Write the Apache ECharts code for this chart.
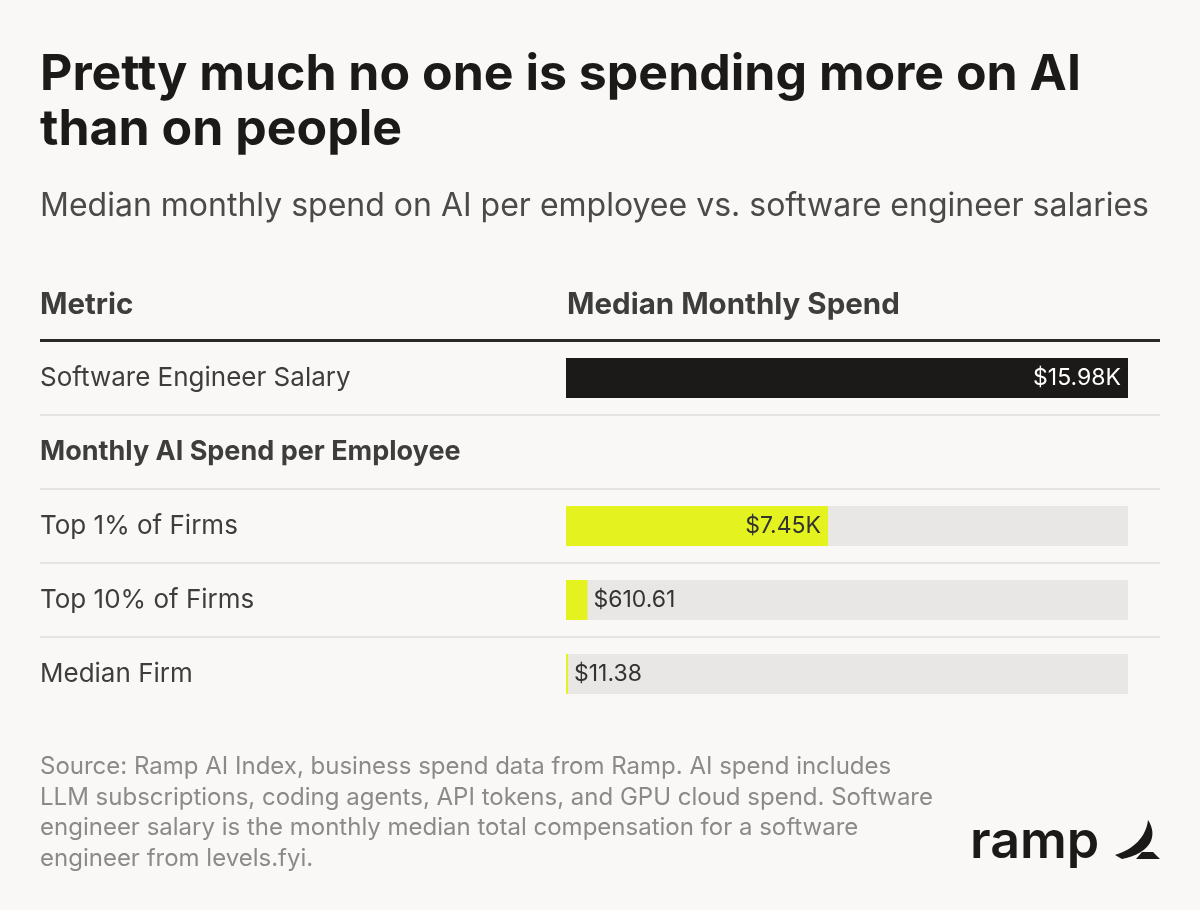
<!DOCTYPE html>
<html>
<head>
<meta charset="utf-8">
<script src="https://cdn.jsdelivr.net/npm/echarts@6/dist/echarts.min.js"></script>
<style>
  html, body { margin: 0; padding: 0; background: #f9f8f6; }
  #chart { width: 1200px; height: 910px; }
</style>
</head>
<body>
<div id="chart"></div>
<script>
var rows = ['Software Engineer Salary', 'Monthly AI Spend per Employee', 'Top 1% of Firms', 'Top 10% of Firms', 'Median Firm'];
var sectionRows = ['Monthly AI Spend per Employee'];
var spend = [15980, null, 7450, 610.61, 11.38];

var font = 'Inter, "Liberation Sans", sans-serif';
var ink = '#1b1a18';
var text = '#3d3d3b';
var muted = '#8b8a88';
var rule = '#e6e4e1';
var yellow = '#e4f220';
var track = '#e8e7e5';

// ramp logo mark
echarts.graphic.registerShape('rampMark', echarts.graphic.extendShape({
  shape: {},
  buildPath: function (ctx) {
    ctx.moveTo(1148, 820);
    ctx.bezierCurveTo(1158, 835, 1152, 853, 1122, 859);
    ctx.lineTo(1115, 855);
    ctx.bezierCurveTo(1134, 849, 1146, 837, 1148, 820);
    ctx.closePath();
    ctx.moveTo(1136, 859);
    ctx.lineTo(1160, 859);
    ctx.lineTo(1153, 852);
    ctx.lineTo(1142, 852);
    ctx.closePath();
  }
}));

var chart = echarts.init(document.getElementById('chart'), null, { renderer: 'canvas' });

var maxSpend = Math.max.apply(null, spend.filter(function (v) { return v != null; }));

function fmt(v) {
  if (v >= 1000) return '$' + (v / 1000).toFixed(2) + 'K';
  return '$' + v.toFixed(2);
}

var gridTop = 341, bandH = 74, gridLeft = 566, gridRight = 1128;

function txt(x, y, s, f, c, extra) {
  var st = { text: s, font: f, fill: c, textVerticalAlign: 'middle' };
  if (extra) for (var k in extra) st[k] = extra[k];
  return { type: 'text', x: x, y: y, style: st };
}

var graphics = [
  txt(40, 75, 'Pretty much no one is spending more on AI', 'bold 50px ' + font, ink),
  txt(40, 130, 'than on people', 'bold 50px ' + font, ink),
  txt(40, 206, 'Median monthly spend on AI per employee vs. software engineer salaries', '32px ' + font, '#4b4a48'),
  txt(40, 305, 'Metric', 'bold 29.5px ' + font, text),
  txt(567, 305, 'Median Monthly Spend', 'bold 29.5px ' + font, text),
  { type: 'rect', shape: { x: 40, y: gridTop - 2, width: 1120, height: 3 }, style: { fill: '#2a2927' } },
  { type: 'text', x: 40, y: 752, style: {
      text: 'Source: Ramp AI Index, business spend data from Ramp. AI spend includes\nLLM subscriptions, coding agents, API tokens, and GPU cloud spend. Software\nengineer salary is the monthly median total compensation for a software\nengineer from levels.fyi.',
      font: '24px ' + font, fill: muted, lineHeight: 30.5, textVerticalAlign: 'top' } },
  txt(970, 842, 'ramp', '600 52px ' + font, ink),
  { type: 'rampMark', shape: {}, style: { fill: ink } }
];
for (var i = 1; i < rows.length; i++) {
  graphics.push({ type: 'rect', shape: { x: 40, y: gridTop + bandH * i - 1, width: 1120, height: 2 }, style: { fill: rule } });
}

chart.setOption({
  animation: false,
  backgroundColor: '#f9f8f6',
  graphic: graphics,
  grid: { left: gridLeft, right: 1200 - gridRight, top: gridTop, height: bandH * rows.length, outerBoundsMode: 'none' },
  xAxis: { type: 'value', min: 0, max: maxSpend, show: false },
  yAxis: {
    type: 'category',
    data: rows,
    inverse: true,
    axisLine: { show: false },
    axisTick: { show: false },
    splitLine: { show: false },
    axisLabel: {
      margin: gridLeft - 40,
      align: 'left',
      formatter: function (v) {
        return sectionRows.indexOf(v) >= 0 ? '{h|' + v + '}' : '{n|' + v + '}';
      },
      rich: {
        n: { fontFamily: font, fontSize: 26, color: text },
        h: { fontFamily: font, fontSize: 27, fontWeight: 'bold', color: text }
      }
    }
  },
  series: [
    {
      type: 'bar',
      silent: true,
      barWidth: 40,
      z: 1,
      data: spend.map(function (v) { return v == null ? null : maxSpend; }),
      itemStyle: { color: track }
    },
    {
      type: 'bar',
      barWidth: 40,
      barGap: '-100%',
      barMinHeight: 2,
      z: 2,
      data: spend.map(function (v, i) {
        if (v == null) return null;
        var big = v > maxSpend * 0.2;
        return {
          value: v,
          itemStyle: { color: i === 0 ? ink : yellow },
          label: {
            show: true,
            position: big ? 'insideRight' : 'right',
            distance: big ? 7 : 6,
            color: i === 0 ? '#ffffff' : '#333331'
          }
        };
      }),
      label: {
        fontFamily: font,
        fontSize: 23,
        formatter: function (p) { return fmt(p.value); }
      }
    }
  ]
});
</script>
</body>
</html>
